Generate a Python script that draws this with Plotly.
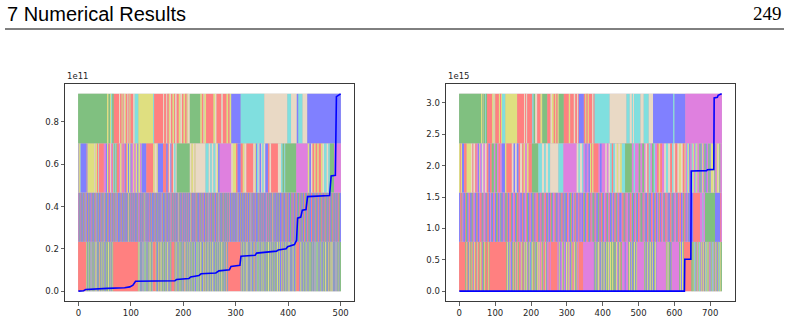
import re
import plotly.graph_objects as go

# ---------------- data ----------------
N_LEFT = 501
N_RIGHT = 733

COLORS = {'g': '#80c080', 'r': '#ff8080', 'b': '#8080ff', 'c': '#80dfdf',
          'y': '#dfdf80', 'm': '#df80df', 't': '#e9d9c5'}

# colour code per index, rows bottom -> top (letter + optional run length)
LEFT_ROW0 = ("r15"
             "gybgbyggby" "bygbgybgyb" "ygbbgyrgby" "gbygybgbyg" "bgyybgbygb" "yg"
             "r47"
             "gybygbgbyb" "bygcgybgby" "gbygybgby"
             "r5"
             "ygbbgyrgby" "gybgbyggby" "bgyybgbygb"
             "r6"
             "gbygybgbyg" "ygbgybbgyr" "bygbgybgyb" "gybygbgbyb" "bygcgybgby"
             "ygbbgyrgby" "gbygybgbyg" "bgyybgbygb" "gybgbyggby" "ygbgybbgyr" "gb"
             "r24"
             "bygbgybgyb" "gybygbgbyb" "ygbbgyrgby" "bygcgybgby" "gbygybgbyg"
             "bgyybgbygb" "gybgbyggby" "ygbgybbgyr" "bygbgybgyb" "gybygbgbyb" "ygbbgy"
             "r6"
             "bgyybgbygb" "gbygybgbyg" "ygbgybbgyb" "bygcgybgby" "gybgbyggby"
             "ygbbgyrgby" "gybygbgbyb" "bygbgybg")
LEFT_ROW1 = ("brgbrbgbbrgrbybgrbbgrbgbmrbgbbrgbrybgbrgbbrbgrbgby"
             "rbgbbrgbrbbgrmbgbrbgrbybgrbbgbrbgrbbgrbgbrbbgrybgb"
             "rgbbrbgrbbgbrgbmbrgbrbbgrbgybrbgbrbbrgbgrbbgbrbgrb"
             "bgrbgbrbybgrbbgbrgbrbbgrbgmbrbgbrbgrbbgbrybgrbbgbr"
             "gbrbbgrbgbrbbgybrgbrbgbbrgrbgbbrbgrbmgbrbbgrbgbrby"
             "bgrbbrgbgbrbbgrbgbyrbgbbrgbrbgrbbgbrbgrmbbgrbgbrbb"
             "grbybgrbbgrbbgrbgbbrgbgrbbrgbybrgbbrbgrbbgbrgrbbgb"
             "rbgrbbgbrmbgbrbgrbbgrybgbrbbgrbgbrgbbrbgrbgbbrgrbg"
             "brbbggrbbrrgbbgrrbbggbrrbbgrgbbrrggbbrrgbgbbrrgbgb"
             "brrggbbrrgbbggrrbbgbrrggbbrgbrrbbggrrbbgbrgbbrrggb"
             "bgrrbbgg")
LEFT_ROW2 = ("y1b1y2c1b10r1b2y2y11t2y3r2c1t1r9m4b2y2b1r3t2m2r2c2g2c2g1r4"
             "m2y3m2r2m2b2r2y2b2y3b2m3y2m3y3b2y3m2y1b9r13y3t4y2b10r6"
             "b3r2t3b2r3t2c3t2g25t3y3t3y2t19c6t3c3t3c4t3y2b3m22t3y3y3r3b6"
             "r4y3t4r3r10t3y2b2c3t2b3t2c3t3b2b3r3t3r13t6c3g3c2g21m22"
             "y3b3t3r3y3r3y3r4y3t3c5t3c3g8m14")
LEFT_ROW3 = ("g55y3g3y2c2g3r10t2r3y2r2t2y2r3t2r2y2r3r2t3c7y28c2r17t2r4t2r3"
             "y2t2r3y3r2t3r4y3t3r3y3r3y2t4g20y3r3t2y3r4r10y3t3r3r6t3r7"
             "y3r3y3b18c45t44c7t11b3c8t9b65")

RIGHT_ROW0 = ("r17g2y2r3g2b2y2r2g3y2r2b2y3r3g2m2y2r4g2y3r3b2g3y2r3g2r4y2g2"
              "r47g2y3b2g2y2m2b3g2y2r2g2y2b2r3y2g2r4m2y2g2r3b2y2"
              "g2y3b2m2g2y2b3c2g2y2r2g3y2b2g3y2m2y3m3r2y2g3m2r3y2g2b2m4r3m3"
              "r18m4g2y2b2m3y2g3m4b2y3m2g2y3m2b2g2y2r3m2y3g2b2y2r2m2r12m30"
              "b2g3y2b2g2y3m2g2b3y2g2b2y3g2b2y2g3y3b2y4g3y3g4b2g2y3m2b2g2y2r2g3"
              "m8b3m7g2y3b2g2y2b3g2y3b2g2y2m19g2y2b3g2y3b2g2y3b2g2y2b3g2y3b2"
              "m26g2y3b2y2g3b2g2m21g3y2b3y3g2r21g4"
              "y2g2c2b2y2g2m2y2g2c2b2y3g2m2y2g2b2y2c2g2y3g2m2b2y2g2c2b2y2g2"
              "m2y2g2b2y2g2c2y2g2")
RIGHT_ROW1 = ("b3r4g2m3b5r2g4b3m2r3b4g3r2m4b3g2r3b4m2"
              "r5b2g3m4r2b3g2r4b3m3g2b4r3m2b3g4r2b3m3"
              "g3b4r2m3b2g4r3b3m2r4g2b3m4r2b3g3r4b2m3"
              "b4r3g2b3m4r2g3b4r3m2b3g4r2b3m3r4g2b3m2"
              "r3b2g4m3r4b3g2m2b4r3g3b2m4r3g2b4r2m3b3"
              "g2r4b3m2g3b4r3m3b2g4r2b3m4g2r3b4m2r3b3"
              "m3b4r2g3b3m2r4g2b4r3m3g4b2r3m2b4g3r2b3"
              "r4g2b3m4r3b2g3m3r2b4g2m3b3r4g3b2m2r3b3"
              "b3m2r4g3b2r3m4g2b3r4m2g3b4r2m3g2b3r4m3"
              "g4b2r3m3g2b4r3m2g3b3r4m2b3g2r3b4m3g2r3"
              "b3r2m4g3b2r4m3g2b4r3m2g3b3r2m4g2b3r4m2"
              "r3b4m2g3r4b3m3g2b4"
              "m4b5r19m7c3m4g28b14r2m3")
RIGHT_ROW2 = ("y3r2y3b6r7y12t4r3t5r4m4b3y2m3b2t5m4t5r5b4r5g6m4g5m4r5m4b5"
              "b4y4r6r9t5b4t5b5r4t6r4y4m5y5r9g18c10t6c5t6c6t23c14m37"
              "t5c4t6c4m5b4m5b4y3r3y4r14m4b5m5m5t4m5t4c5r4c5t5y4t5y5c9g19"
              "m5c4m5m5g5m5g5m4t5r4c5m4g5c4m5r5y4r5m6t5c6t6r5c4t5r6"
              "t5y5t5r5y3m4c3y3b3m4c3y3m4c3y3m5g4b3y3m4g4b3m4g4b3y3"
              "y4t3g3m4y4t3g3m4y3t3g2")
RIGHT_ROW3 = ("g61y4g3y1g4c2g3r14y4t3y2r10y3r3y3c9y33r19t3r3t3r2r12c4g4t6"
              "r9y5g14r9t4y5r4y3r4y3g14r14y4r5r5t4r5t3r2b14r4y3r4y3r4"
              "r5t4r3c42t47c9t6c3t3c4c14t9c14t12b56c4b30m102")

# cumulative curve (left in units of 1e11, right in units of 1e15)
LEFT_X = [0, 10, 14, 50, 55, 88, 98, 104, 107, 109,
          184, 187, 211, 214, 230, 234, 262, 268, 288, 291,
          308, 310, 337, 340, 378, 381, 396, 399, 412, 416,
          418, 424, 427, 434, 437, 479, 482, 490, 492, 500]
LEFT_Y = [0.0, 0.002, 0.008, 0.010, 0.013, 0.016, 0.020, 0.028, 0.040, 0.047,
          0.049, 0.055, 0.060, 0.067, 0.074, 0.082, 0.086, 0.096, 0.101, 0.117,
          0.122, 0.165, 0.170, 0.180, 0.189, 0.195, 0.200, 0.210, 0.220, 0.240,
          0.345, 0.350, 0.383, 0.386, 0.447, 0.452, 0.545, 0.548, 0.920, 0.933]
RIGHT_X = [0, 628, 629, 646, 647, 690, 692, 710, 711, 720, 722, 732]
RIGHT_Y = [0.0, 0.0, 0.507, 0.51, 1.915, 1.92, 1.935, 1.94, 3.08, 3.09, 3.12, 3.144]

LEFT_YTICKS = [0.0, 0.2, 0.4, 0.6, 0.8]
RIGHT_YTICKS = [0.0, 0.5, 1.0, 1.5, 2.0, 2.5, 3.0]
LEFT_XTICKS = [0, 100, 200, 300, 400, 500]
RIGHT_XTICKS = [0, 100, 200, 300, 400, 500, 600, 700]


def expand(spec, n):
    out = []
    for ch, num in re.findall(r'([a-z])(\d*)', spec):
        out += [ch] * (int(num) if num else 1)
    out = out[:n]
    while len(out) < n:
        out.append(out[-1])
    return out


def runs(codes):
    res = []
    start = 0
    for i in range(1, len(codes) + 1):
        if i == len(codes) or codes[i] != codes[start]:
            res.append((start, i - start, codes[start]))
            start = i
    return res


def hex_avg(codes):
    tot = [0, 0, 0]
    for c in codes:
        h = COLORS[c]
        for j in range(3):
            tot[j] += int(h[1 + 2 * j:3 + 2 * j], 16)
    n = len(codes)
    return 'rgb(%d,%d,%d)' % tuple(round(t / n) for t in tot)


fig = go.Figure()


def add_panel(xa, ya, rows, n, xs, ys):
    top = max(ys)
    h = top / 4.0
    for k, spec in enumerate(rows):
        codes = expand(spec, n)
        # underlay in the row's mean colour so sub-pixel seams blend like the original
        fig.add_trace(go.Bar(x=[(n - 1) / 2.0], y=[h], base=[k * h], width=[n],
                             marker=dict(color=hex_avg(codes), line=dict(width=0)),
                             xaxis=xa, yaxis=ya, hoverinfo='skip', showlegend=False))
        rr = runs(codes)
        fig.add_trace(go.Bar(x=[s + (L - 1) / 2.0 for s, L, c in rr],
                             y=[h] * len(rr), base=[k * h] * len(rr),
                             width=[L for s, L, c in rr],
                             marker=dict(color=[COLORS[c] for s, L, c in rr], line=dict(width=0)),
                             xaxis=xa, yaxis=ya, hoverinfo='skip', showlegend=False))
    fig.add_trace(go.Scatter(x=xs, y=ys, mode='lines',
                             line=dict(color='#0000ff', width=1.6),
                             xaxis=xa, yaxis=ya, hoverinfo='skip', showlegend=False))
    return top


ltop = add_panel('x', 'y', [LEFT_ROW0, LEFT_ROW1, LEFT_ROW2, LEFT_ROW3], N_LEFT, LEFT_X, LEFT_Y)
rtop = add_panel('x2', 'y2', [RIGHT_ROW0, RIGHT_ROW1, RIGHT_ROW2, RIGHT_ROW3], N_RIGHT, RIGHT_X, RIGHT_Y)

W, H = 791, 320
YD = [1 - 301 / H, 1 - 84 / H]
XD1 = [65 / W, 354 / W]
XD2 = [446 / W, 735 / W]

tickfont = dict(family='DejaVu Sans', size=8.5, color='#262626')
axis_common = dict(showgrid=False, zeroline=False, showline=True, mirror=True,
                   linecolor='#3a3a3a', linewidth=1, ticks='outside', ticklen=3.5,
                   tickwidth=0.8, tickcolor='#3a3a3a', tickfont=tickfont)


def xr(n):
    return [-0.5 - 0.05 * n, n - 0.5 + 0.05 * n]


def yr(top):
    return [-0.05 * top, top * 1.05]


fig.update_layout(
    width=W, height=H, margin=dict(l=0, r=0, t=0, b=0),
    paper_bgcolor='white', plot_bgcolor='white', barmode='overlay',
    hovermode=False,
    xaxis=dict(domain=XD1, range=xr(N_LEFT), tickvals=LEFT_XTICKS, anchor='y', **axis_common),
    yaxis=dict(domain=YD, range=yr(ltop), tickvals=LEFT_YTICKS, tickformat='.1f', anchor='x', **axis_common),
    xaxis2=dict(domain=XD2, range=xr(N_RIGHT), tickvals=RIGHT_XTICKS, anchor='y2', **axis_common),
    yaxis2=dict(domain=YD, range=yr(rtop), tickvals=RIGHT_YTICKS, tickformat='.1f', anchor='x2', **axis_common),
)

fig.add_annotation(text='1e11', xref='paper', yref='paper', x=XD1[0], y=YD[1],
                   xanchor='left', yanchor='bottom', yshift=1, showarrow=False,
                   font=dict(family='DejaVu Sans', size=8.5, color='#262626'))
fig.add_annotation(text='1e15', xref='paper', yref='paper', x=XD2[0], y=YD[1],
                   xanchor='left', yanchor='bottom', yshift=1, showarrow=False,
                   font=dict(family='DejaVu Sans', size=8.5, color='#262626'))

# page header
fig.add_annotation(text='7 Numerical Results', xref='paper', yref='paper', x=5 / W, y=1 - 14 / H,
                   xanchor='left', yanchor='middle', showarrow=False,
                   font=dict(family='Liberation Sans', size=20, color='black'))
fig.add_annotation(text='249', xref='paper', yref='paper', x=784 / W, y=1 - 14 / H,
                   xanchor='right', yanchor='middle', showarrow=False,
                   font=dict(family='Liberation Serif', size=19, color='black'))
fig.add_shape(type='line', xref='paper', yref='paper', x0=5 / W, x1=784 / W,
              y0=1 - 29 / H, y1=1 - 29 / H, line=dict(color='black', width=1))

fig.write_html('out.html', config={'staticPlot': True})
